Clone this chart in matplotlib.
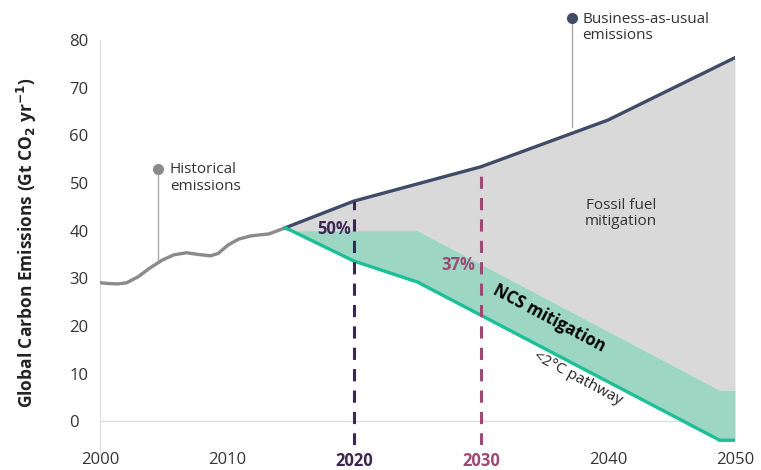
import matplotlib
matplotlib.use('Agg')
import matplotlib.pyplot as plt
import numpy as np

# Data
hist_years = [2000, 2000.65, 2001.4, 2002.1, 2003.0, 2003.9, 2004.9, 2005.8, 2006.8, 2007.7,
              2008.7, 2009.3, 2010.1, 2010.9, 2011.9, 2013.3, 2013.9, 2014.6]
hist_values = [29.05, 28.9, 28.8, 29.05, 30.3, 32.1, 33.8, 34.9, 35.35, 35.0,
               34.7, 35.2, 37.0, 38.2, 38.9, 39.3, 39.9, 40.6]

bau_years = [2014.6, 2020, 2030, 2040, 2050]
bau_values = [40.6, 46.2, 53.4, 63.2, 76.3]

pathway_years = [2014.6, 2020, 2025, 2048.8, 2050]
pathway_values = [40.6, 33.6, 29.2, -4.0, -4.0]

ncs_top_years = [2014.6, 2025, 2048.8, 2050]
ncs_top_values = [40.0, 40.0, 6.5, 6.5]

xticks = [2000, 2010, 2020, 2030, 2040, 2050]
yticks = [0, 10, 20, 30, 40, 50, 60, 70, 80]

# Colours
c_bau = '#3f4b67'
c_hist = '#8a8a8c'
c_gray = '#d9d9d9'
c_green_fill = '#9dd7c4'
c_green = '#1dbf97'
c_2020 = '#3a2853'
c_2030 = '#9c4a73'
c_text = '#333333'

plt.rcParams['font.family'] = ['Open Sans', 'DejaVu Sans']

fig = plt.figure(figsize=(7.61, 4.70), dpi=100)
ax = fig.add_axes([100 / 761, 1 - 445 / 470, 635 / 761, 405 / 470])

# Common grid for the fills
xs = np.linspace(2014.6, 2050, 400)
bau_i = np.interp(xs, bau_years, bau_values)
top_i = np.minimum(np.interp(xs, ncs_top_years, ncs_top_values), bau_i)
low_i = np.interp(xs, pathway_years, pathway_values)

ax.fill_between(xs, top_i, bau_i, color=c_gray, linewidth=0, zorder=1)
ax.fill_between(xs, low_i, top_i, color=c_green_fill, linewidth=0, zorder=1)

# zero line
ax.axhline(0, color='#dddddd', linewidth=1, zorder=0)

ax.plot(hist_years, hist_values, color=c_hist, linewidth=2.4, zorder=3,
        solid_capstyle='round', solid_joinstyle='round')
ax.plot(bau_years, bau_values, color=c_bau, linewidth=2.4, zorder=3)
ax.plot(pathway_years, pathway_values, color=c_green, linewidth=2.4, zorder=3)

# dashed year markers
ax.plot([2020, 2020], [-5, np.interp(2020, bau_years, bau_values)], color=c_2020,
        linestyle=(0, (4, 3)), linewidth=2.2, zorder=4)
ax.plot([2030, 2030], [-5, np.interp(2030, bau_years, bau_values)], color=c_2030,
        linestyle=(0, (4, 3)), linewidth=2.2, zorder=4)

# annotations
ax.plot([2004.6, 2004.6], [33.3, 52.9], color='#aaaaaa', linewidth=1, zorder=2)
ax.plot(2004.6, 52.9, 'o', color=c_hist, markersize=7, zorder=3)
ax.text(2005.5, 51.1, 'Historical\nemissions', fontsize=11, color=c_text,
        ha='left', va='center', linespacing=1.15)

ax.plot([2037.2, 2037.2], [61.8, 84.7], color='#aaaaaa', linewidth=1, zorder=2, clip_on=False)
ax.plot(2037.2, 84.7, 'o', color=c_bau, markersize=7, zorder=3, clip_on=False)
ax.text(2038.0, 82.6, 'Business-as-usual\nemissions', fontsize=11, color=c_text,
        ha='left', va='center', linespacing=1.15)

ax.text(2041.0, 43.6, 'Fossil fuel\nmitigation', fontsize=11, color=c_text,
        ha='center', va='center', linespacing=1.15)
ax.text(2018.4, 40.3, '50%', fontsize=12, fontweight='bold', color=c_2020,
        ha='center', va='center')
ax.text(2028.2, 32.8, '37%', fontsize=12, fontweight='bold', color=c_2030,
        ha='center', va='center')
ax.text(2035.4, 21.6, 'NCS mitigation', fontsize=12, fontweight='bold', color='black',
        ha='center', va='center', rotation=-28)
ax.text(2037.6, 9.0, '<2°C pathway', fontsize=11, color='#222222',
        ha='center', va='center', rotation=-28)

# axes styling
ax.set_xlim(2000, 2050)
ax.set_ylim(-5, 80)
ax.set_xticks(xticks)
ax.set_xticklabels([str(t) for t in xticks])
ax.set_yticks(yticks)
ax.tick_params(length=0, labelsize=12, colors=c_text)
ax.tick_params(axis='x', pad=5)
ax.tick_params(axis='y', pad=22)
for lab in ax.get_yticklabels():
    lab.set_horizontalalignment('left')
for lab, col in zip(ax.get_xticklabels(), [c_text, c_text, c_2020, c_2030, c_text, c_text]):
    lab.set_color(col)
    if col != c_text:
        lab.set_fontweight('bold')

for side in ['top', 'right', 'bottom']:
    ax.spines[side].set_visible(False)
ax.spines['left'].set_color('#dddddd')
ax.spines['left'].set_bounds(-7, 80)

ax.set_ylabel('Global Carbon Emissions (Gt CO$_\\mathbf{2}$ yr$^\\mathbf{-1}$)',
              fontsize=12.5, fontweight='bold', color='#222222', labelpad=22)

fig.savefig('out.png', dpi=100)
